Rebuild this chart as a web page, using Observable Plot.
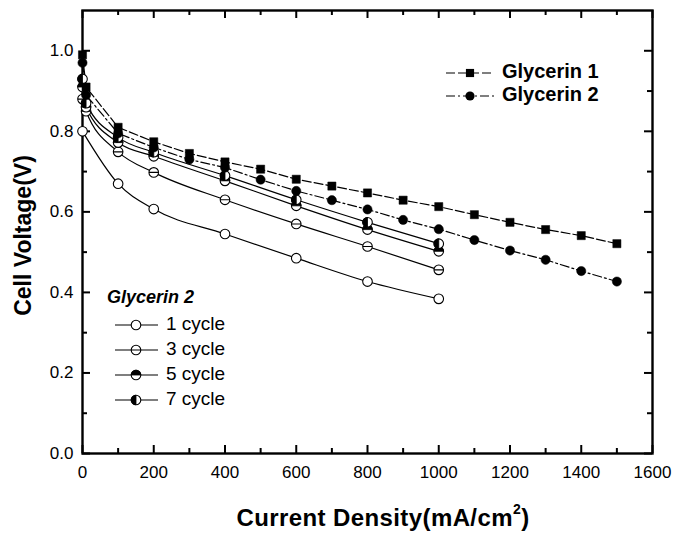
<!DOCTYPE html>
<html>
<head>
<meta charset="utf-8">
<script src="https://cdn.jsdelivr.net/npm/d3@7"></script>
<script src="https://cdn.jsdelivr.net/npm/@observablehq/plot@0.6"></script>
<style>
  html, body { margin: 0; padding: 0; background: white; }
</style>
</head>
<body>
<div id="chart"></div>
<script>
// ---- data ----
const xGlycerin = [0, 10, 100, 200, 300, 400, 500, 600, 700, 800, 900, 1000, 1100, 1200, 1300, 1400, 1500];
const glycerin1 = [0.99, 0.91, 0.81, 0.774, 0.745, 0.724, 0.706, 0.681, 0.664, 0.647, 0.629, 0.613, 0.593, 0.574, 0.556, 0.541, 0.521];
const glycerin2 = [0.97, 0.89, 0.795, 0.76, 0.73, 0.71, 0.68, 0.652, 0.629, 0.606, 0.58, 0.557, 0.53, 0.504, 0.481, 0.453, 0.427];

const xCycle = [0, 10, 100, 200, 400, 600, 800, 1000];
const cycle3 = [0.88, 0.85, 0.749, 0.698, 0.63, 0.57, 0.514, 0.456];
const cycle5 = [0.91, 0.86, 0.772, 0.738, 0.677, 0.615, 0.556, 0.502];
const cycle7 = [0.93, 0.87, 0.785, 0.748, 0.69, 0.63, 0.574, 0.521];
const xCycle1 = [0, 100, 200, 400, 600, 800, 1000];
const cycle1 = [0.80, 0.67, 0.607, 0.545, 0.485, 0.427, 0.384];

const xMajor = [0, 200, 400, 600, 800, 1000, 1200, 1400, 1600];
const xMinor = [100, 300, 500, 700, 900, 1100, 1300, 1500];
const yMajor = [0, 0.2, 0.4, 0.6, 0.8, 1.0];
const yMinor = [0.1, 0.3, 0.5, 0.7, 0.9];

const legendTop = ["Glycerin 1", "Glycerin 2"];
const legendCycleTitle = "Glycerin 2";
const legendCycles = ["1 cycle", "3 cycle", "5 cycle", "7 cycle"];

// ---- helpers ----
const rows = (xs, vs) => xs.map((x, i) => ({x, v: vs[i]}));
const G1 = rows(xGlycerin, glycerin1);
const G2 = rows(xGlycerin, glycerin2);
const C1 = rows(xCycle1, cycle1);
const C3 = rows(xCycle, cycle3);
const C5 = rows(xCycle, cycle5);
const C7 = rows(xCycle, cycle7);

const halfTop = {draw(ctx, size) { const r = Math.sqrt(size / Math.PI); ctx.moveTo(r, 0); ctx.arc(0, 0, r, 0, Math.PI, true); ctx.closePath(); }};
const halfLeft = {draw(ctx, size) { const r = Math.sqrt(size / Math.PI); ctx.moveTo(0, -r); ctx.arc(0, 0, r, -Math.PI / 2, Math.PI / 2, true); ctx.closePath(); }};
const circleLine = {draw(ctx, size) { const r = Math.sqrt(size / Math.PI); ctx.moveTo(r, 0); ctx.arc(0, 0, r, 0, 2 * Math.PI); ctx.moveTo(-r, 0); ctx.lineTo(r, 0); }};

const W = 679, H = 537;
const mL = 82, mR = 27, mT = 10, mB = 84;
const pW = W - mL - mR, pH = H - mT - mB;
const FONT = "'Liberation Sans', Arial, Helvetica, sans-serif";
const R = 4.8;
const lw = 1.2;
const dashG1 = "9,3";
const dashG2 = "9,3,2,3";

const cycleLine = (data) => Plot.line(data, {x: "x", y: "v", stroke: "black", strokeWidth: lw, curve: "monotone-x"});
const openDots = (data) => Plot.dot(data, {x: "x", y: "v", r: R, fill: "white", stroke: "black", strokeWidth: 1.1});

const svg = Plot.plot({
  width: W, height: H,
  marginLeft: mL, marginRight: mR, marginTop: mT, marginBottom: mB,
  style: {fontFamily: FONT, background: "white", color: "black"},
  x: {domain: [0, 1600]},
  y: {domain: [0, 1.1]},
  marks: [
    Plot.axisX(xMajor, {tickSize: 0, tickPadding: 12, fontSize: 17, label: null, tickFormat: d3.format("d")}),
    Plot.axisY(yMajor, {tickSize: 0, tickPadding: 9, fontSize: 17, label: null, tickFormat: d3.format(".1f")}),
    // inward ticks
    Plot.ruleX(xMajor, {x: d => d, insetTop: pH - 8, stroke: "black", strokeWidth: 2}),
    Plot.ruleX(xMinor, {x: d => d, insetTop: pH - 5, stroke: "black", strokeWidth: 2}),
    Plot.ruleX(xMajor, {x: d => d, insetBottom: pH - 8, stroke: "black", strokeWidth: 2}),
    Plot.ruleX(xMinor, {x: d => d, insetBottom: pH - 5, stroke: "black", strokeWidth: 2}),
    Plot.ruleY(yMajor, {y: d => d, insetRight: pW - 8, stroke: "black", strokeWidth: 2}),
    Plot.ruleY(yMinor, {y: d => d, insetRight: pW - 5, stroke: "black", strokeWidth: 2}),
    Plot.ruleY(yMajor, {y: d => d, insetLeft: pW - 8, stroke: "black", strokeWidth: 2}),
    Plot.ruleY(yMinor, {y: d => d, insetLeft: pW - 5, stroke: "black", strokeWidth: 2}),
    Plot.frame({stroke: "black", strokeWidth: 2.4}),
    // lines
    cycleLine(C1), cycleLine(C3), cycleLine(C5), cycleLine(C7),
    Plot.line(G1, {x: "x", y: "v", stroke: "black", strokeWidth: lw, strokeDasharray: dashG1}),
    Plot.line(G2, {x: "x", y: "v", stroke: "black", strokeWidth: lw, strokeDasharray: dashG2}),
    // markers
    openDots(C1),
    Plot.dot(C3, {x: "x", y: "v", r: R, symbol: circleLine, fill: "white", stroke: "black", strokeWidth: 1.1}),
    openDots(C5),
    Plot.dot(C5, {x: "x", y: "v", r: R, symbol: halfTop, fill: "black", stroke: "black", strokeWidth: 0.8}),
    openDots(C7),
    Plot.dot(C7, {x: "x", y: "v", r: R, symbol: halfLeft, fill: "black", stroke: "black", strokeWidth: 0.8}),
    Plot.dot(G2, {x: "x", y: "v", r: 4.6, fill: "black", stroke: "black", strokeWidth: 0.5}),
    Plot.dot(G1, {x: "x", y: "v", r: 4.6, symbol: "square", fill: "black", stroke: "black", strokeWidth: 0.5})
  ]
});

document.getElementById("chart").appendChild(svg);

// ---- annotations: axis titles and legends ----
const s = d3.select(svg);
const gx = s.append("text")
  .attr("x", 383).attr("y", 520)
  .attr("text-anchor", "middle").attr("dominant-baseline", "middle")
  .attr("font-family", FONT).attr("font-weight", "bold").attr("font-size", 24)
  .attr("letter-spacing", 0.4).attr("fill", "black");
gx.append("tspan").text("Current Density(mA/cm");
gx.append("tspan").text("2").attr("font-size", 14).attr("dy", -10);
gx.append("tspan").text(")").attr("dy", 10);

s.append("text")
  .attr("transform", `translate(25,${mT + pH / 2 + 4}) rotate(-90)`)
  .attr("text-anchor", "middle").attr("dominant-baseline", "middle")
  .attr("font-family", FONT).attr("font-weight", "bold").attr("font-size", 23).attr("fill", "black")
  .text("Cell Voltage(V)");

function marker(g, cx, cy, kind) {
  const size = Math.PI * R * R;
  const t = `translate(${cx},${cy})`;
  if (kind === "square") {
    g.append("path").attr("d", d3.symbol(d3.symbolSquare, Math.PI * 4.6 * 4.6)()).attr("transform", t).attr("fill", "black");
  } else if (kind === "disc") {
    g.append("circle").attr("cx", cx).attr("cy", cy).attr("r", 4.6).attr("fill", "black");
  } else if (kind === "line") {
    g.append("path").attr("d", d3.symbol(circleLine, size)()).attr("transform", t).attr("fill", "white").attr("stroke", "black").attr("stroke-width", 1.1);
  } else {
    g.append("circle").attr("cx", cx).attr("cy", cy).attr("r", R).attr("fill", "white").attr("stroke", "black").attr("stroke-width", 1.1);
    if (kind === "top") g.append("path").attr("d", d3.symbol(halfTop, size)()).attr("transform", t).attr("fill", "black").attr("stroke", "black").attr("stroke-width", 0.8);
    if (kind === "left") g.append("path").attr("d", d3.symbol(halfLeft, size)()).attr("transform", t).attr("fill", "black").attr("stroke", "black").attr("stroke-width", 0.8);
  }
}

const lg = s.append("g").attr("text-anchor", "start");
const topKinds = ["square", "disc"];
const topDash = [dashG1, dashG2];
legendTop.forEach((label, i) => {
  const y = 73 + i * 23;
  lg.append("line").attr("x1", 446).attr("x2", 494).attr("y1", y).attr("y2", y)
    .attr("stroke", "black").attr("stroke-width", lw).attr("stroke-dasharray", topDash[i]);
  marker(lg, 470, y, topKinds[i]);
  lg.append("text").attr("x", 502).attr("y", y).attr("dominant-baseline", "middle").attr("text-anchor", "start")
    .attr("font-family", FONT).attr("font-weight", "bold").attr("font-size", 20).attr("fill", "black").text(label);
});

lg.append("text").attr("x", 107).attr("y", 298).attr("dominant-baseline", "middle").attr("text-anchor", "start")
  .attr("font-family", FONT).attr("font-weight", "bold").attr("font-style", "italic").attr("font-size", 18).attr("fill", "black")
  .text(legendCycleTitle);
const cycleKinds = ["open", "line", "top", "left"];
legendCycles.forEach((label, i) => {
  const y = 325 + i * 25;
  lg.append("line").attr("x1", 115).attr("x2", 158).attr("y1", y).attr("y2", y)
    .attr("stroke", "black").attr("stroke-width", lw);
  marker(lg, 136, y, cycleKinds[i]);
  lg.append("text").attr("x", 166).attr("y", y).attr("dominant-baseline", "middle").attr("text-anchor", "start")
    .attr("font-family", FONT).attr("font-size", 19).attr("fill", "black").text(label);
});
</script>
</body>
</html>
